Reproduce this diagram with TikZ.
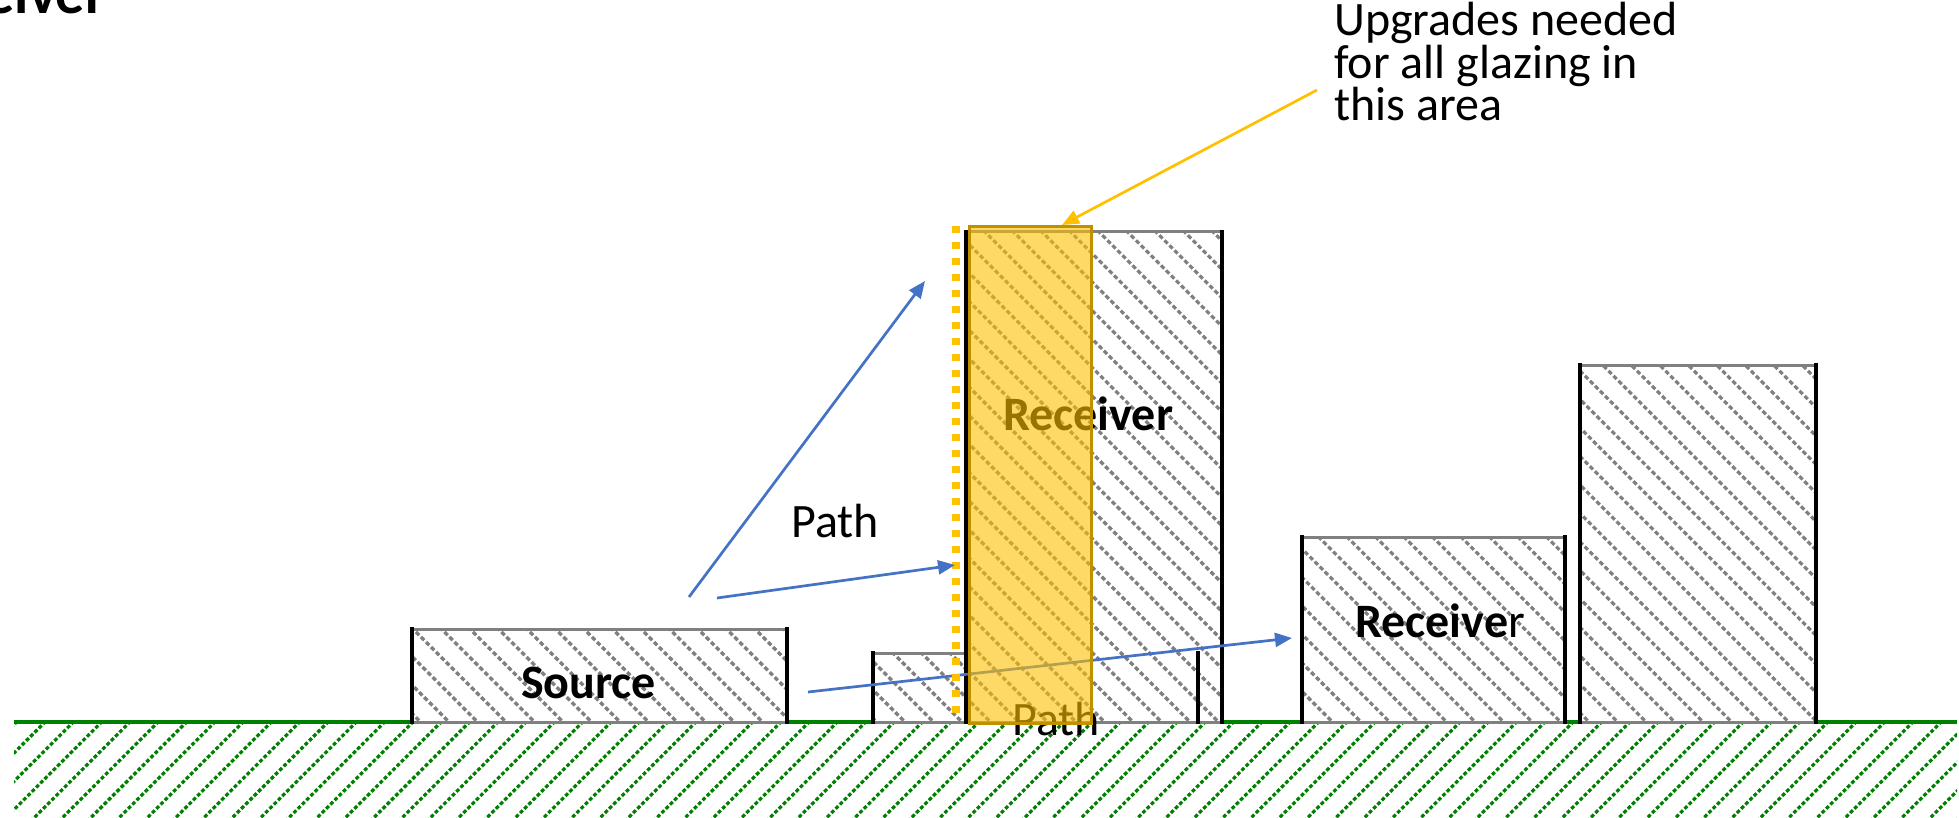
\documentclass[tikz,border=0pt]{standalone}
\usepackage{fontspec}
\setmainfont{Carlito}
\usetikzlibrary{arrows.meta}
\definecolor{pathblue}{HTML}{4472C4}
\definecolor{gold}{HTML}{FFC000}
\definecolor{darkgold}{HTML}{BF9000}
\definecolor{groundgreen}{HTML}{008000}
\definecolor{hatchgray}{HTML}{808080}
\newcommand\bldhatch[4]{%
  \fill[white] (#1,#2) rectangle (#3,#4);
  \begin{scope}
    \clip (#1,#2) rectangle (#3,#4);
    \foreach \k in {-15,...,60} \draw[hatchline] ({162+28.5*\k},150) -- ({772+28.5*\k},760);
  \end{scope}
  \draw[edgeline] (#1,#2) -- (#3,#2) (#1,#4) -- (#3,#4);
}
\begin{document}
\begin{tikzpicture}[x=1pt,y=-1pt,
  hatchline/.style={hatchgray, line width=3.2pt, dash pattern=on 4.5pt off 2.6pt},
  groundhatch/.style={groundgreen, line width=3.2pt, dash pattern=on 3.8pt off 2.2pt},
  edgeline/.style={hatchgray, line width=3pt},
  wall/.style={black, line width=4.5pt},
  arr/.style={pathblue, line width=2.7pt, -{Triangle[length=17pt,width=14pt]}},
  callout/.style={gold, line width=2.7pt, -{Triangle[length=17pt,width=14pt]}},
  lbl/.style={inner sep=0pt, font=\fontsize{48}{52}\selectfont, anchor=base west},
  blbl/.style={inner sep=0pt, font=\fontsize{48}{52}\selectfont\bfseries, anchor=base west}
]
\useasboundingbox (0,0) rectangle (1959,818);
\clip (0,0) rectangle (1959,818);

% cut-off title
\node[inner sep=0pt, font=\fontsize{58}{62}\selectfont\bfseries, anchor=base east] (title) at (106,14) {Receiver};

% ground
\begin{scope}
  \clip (14,722) rectangle (1957,818);
  \foreach \k in {-2,...,75} \draw[groundhatch] ({67+28.3*\k},700) -- ({-63+28.3*\k},830);
\end{scope}
\draw[groundgreen, line width=4pt] (14,722) -- (1957,722);

% low building between source and receiver
\bldhatch{873}{653}{1198}{722}
% source
\bldhatch{412}{629}{787}{722}
\draw[wall] (412,627) -- (412,724) (787,627) -- (787,724);
% tall receiver
\bldhatch{966}{232}{1222}{722}
\draw[wall] (966,230) -- (966,724) (1222,230) -- (1222,724);
\draw[wall] (873,651) -- (873,724) (1198,651) -- (1198,724);
% right receiver
\bldhatch{1302}{537}{1565}{722}
\draw[wall] (1302,535) -- (1302,724) (1565,535) -- (1565,724);
% right tall building
\bldhatch{1580}{365}{1816}{722}
\draw[wall] (1580,363) -- (1580,724) (1816,363) -- (1816,724);

% labels
\node[blbl] (src) at (521,698) {Source};
\node[blbl] (rcv1) at (1003,430) {Receiver};
\node[lbl] (rcv2) at (1355,637) {\textbf{Receive}r};
\node[lbl] (path1) at (791,537) {Path};
\node[lbl] (path2) at (1012,735) {Path};

% path arrows
\coordinate (a1s) at (689,597);
\coordinate (a1e) at (925,281);
\coordinate (a2s) at (717,598);
\coordinate (a2e) at (955,565);
\coordinate (a3s) at (808,692);
\coordinate (a3e) at (1292,638);
\draw[arr] (a3s) -- (a3e);

% glazing zone
\fill[gold, fill opacity=0.6] (969,227) rectangle (1091,723);
\draw[darkgold, line width=3pt] (969,227) rectangle (1091,723);
\draw[gold, line width=7.5pt, dash pattern=on 7pt off 9pt] (956,226) -- (956,722);

\draw[arr] (a1s) -- (a1e);
\draw[arr] (a2s) -- (a2e);

% callout
\node[lbl, align=left, font=\fontsize{48}{40}\selectfont] (note) at (1334,121) {Upgrades needed\\for all glazing in\\this area};
\coordinate (cs) at (1317,90);
\coordinate (ce) at (1062,225);
\draw[callout] (cs) -- (ce);
\end{tikzpicture}
\end{document}
